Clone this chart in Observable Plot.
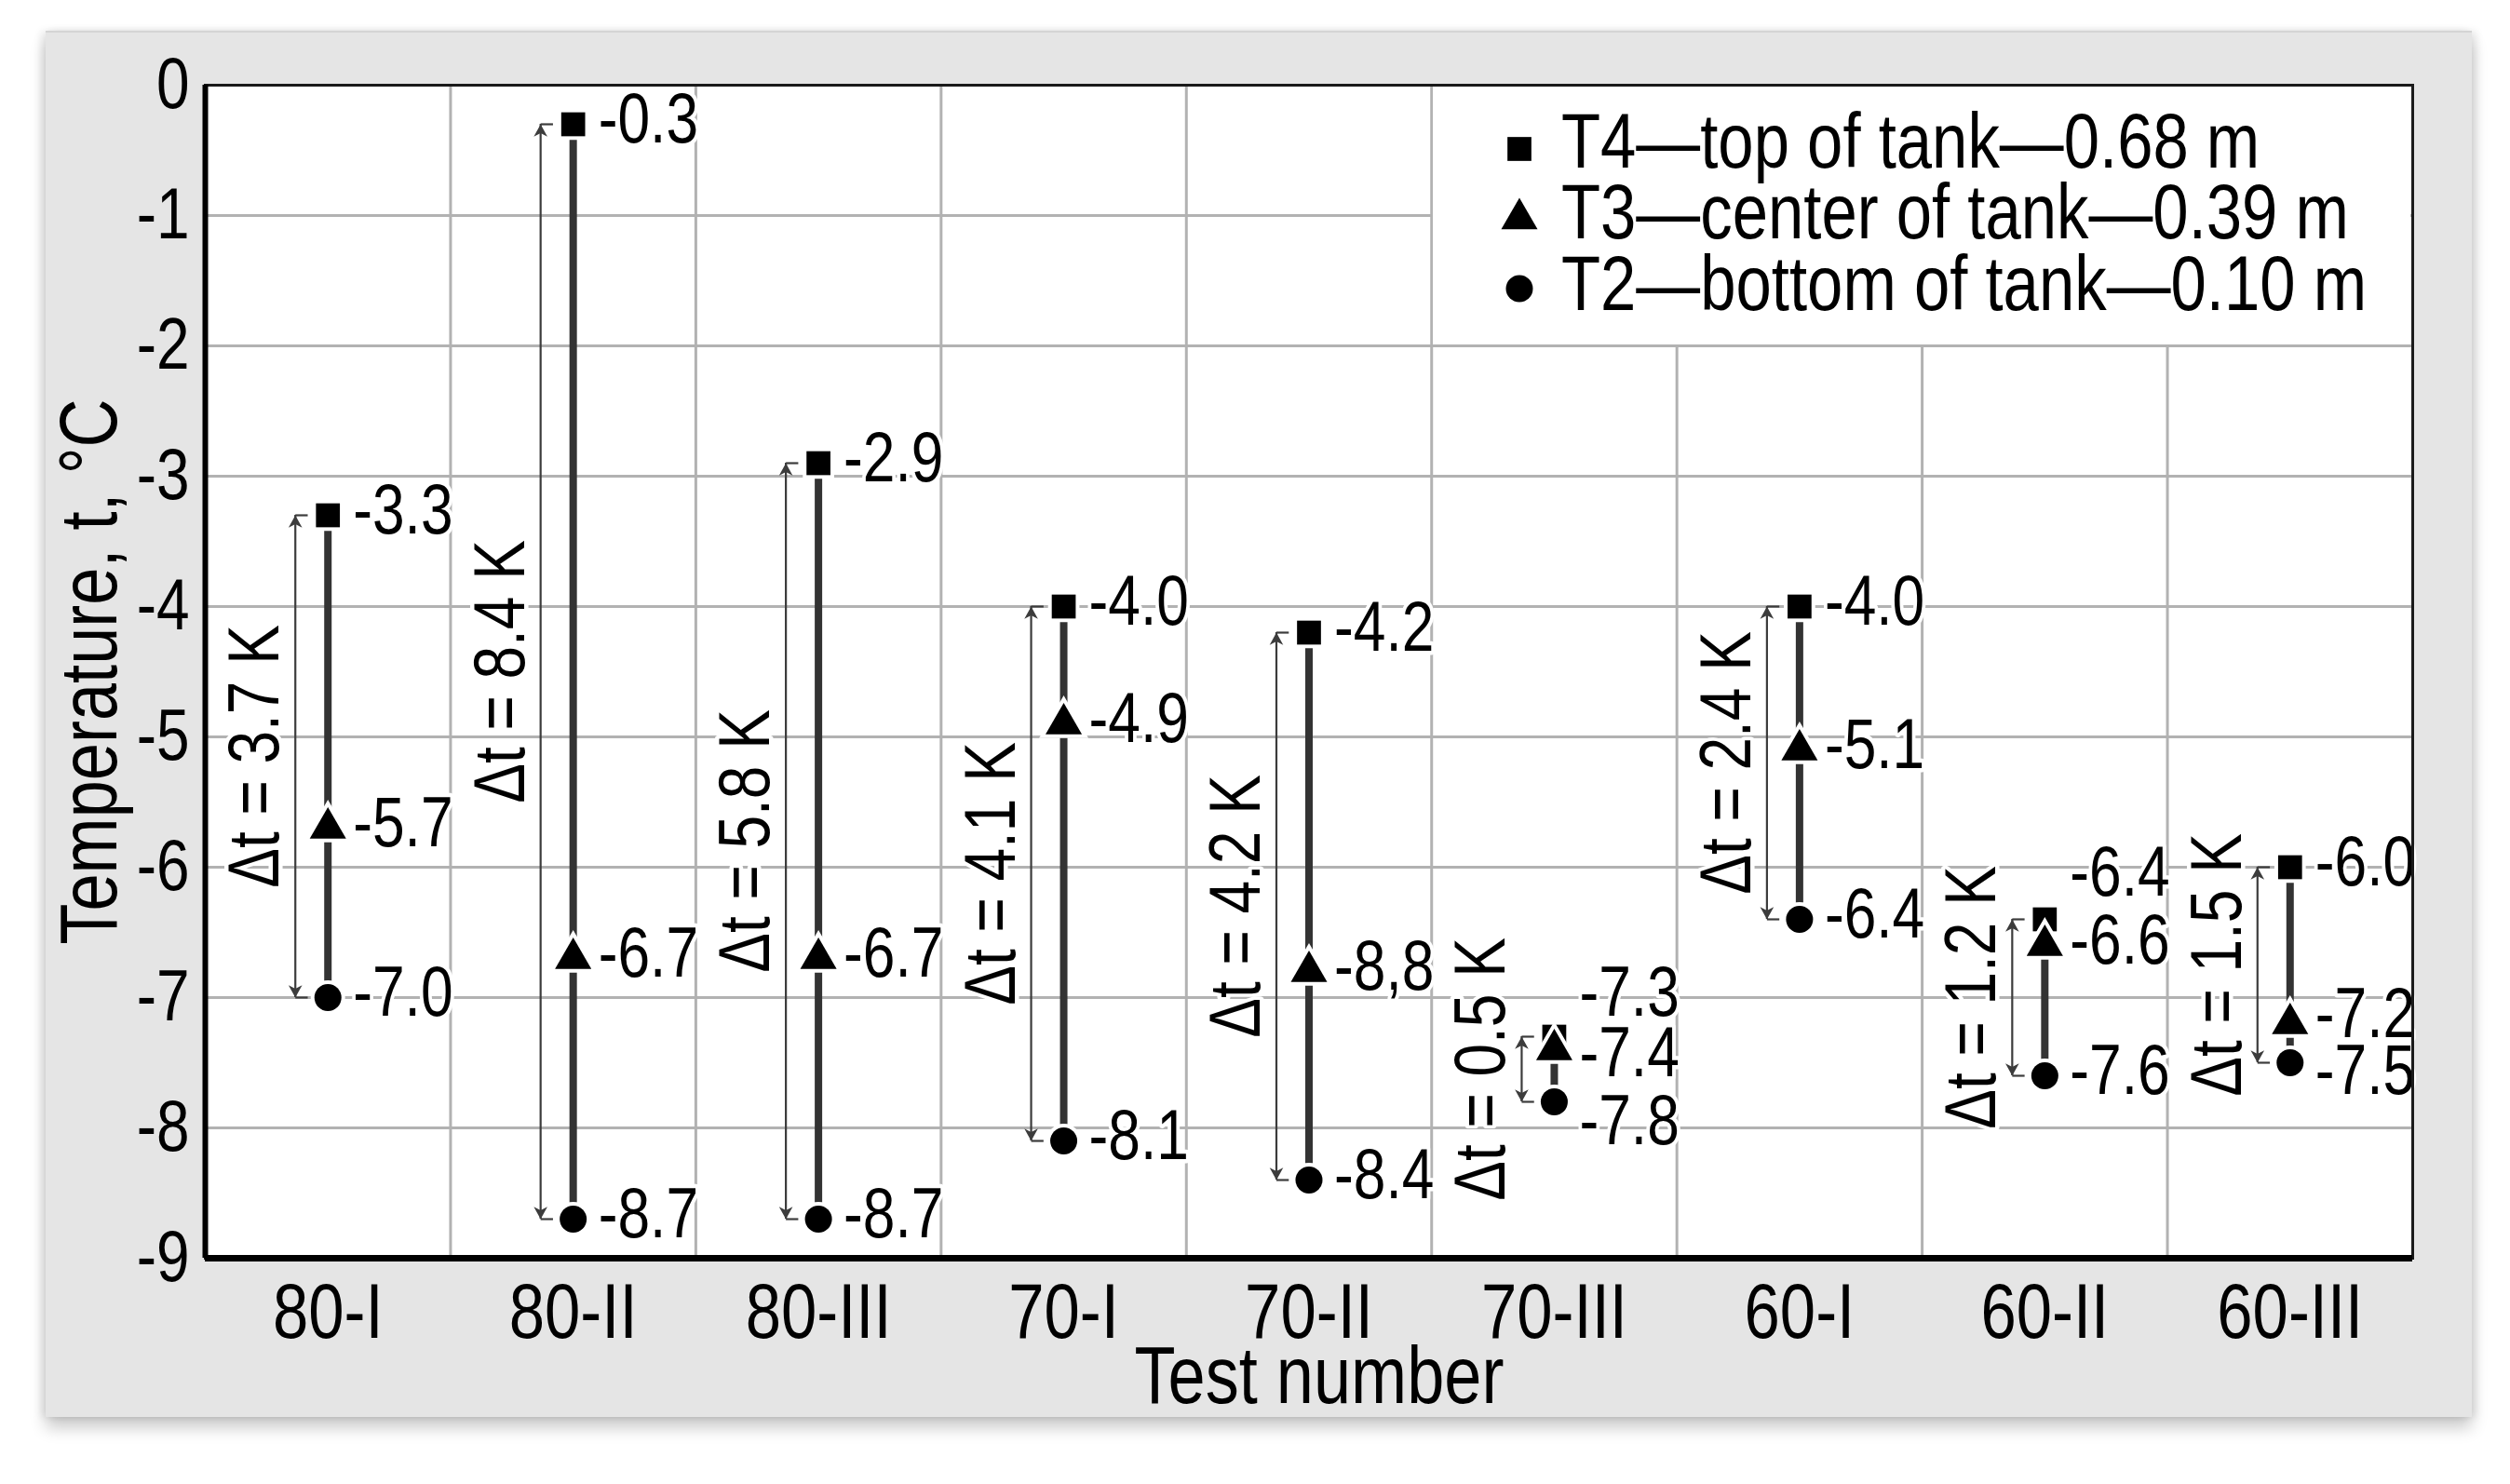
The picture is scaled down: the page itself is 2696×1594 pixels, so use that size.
<!DOCTYPE html>
<html>
<head>
<meta charset="utf-8">
<script src="https://cdn.jsdelivr.net/npm/d3@7"></script>
<script src="https://cdn.jsdelivr.net/npm/@observablehq/plot@0.6"></script>
<style>
html, body { margin: 0; padding: 0; background: #fff; }
#wrap { position: relative; width: 2696px; height: 1594px; overflow: hidden; background: #fff; }
#panel { position: absolute; left: 49px; top: 33px; width: 2606px; height: 1487px; background: #e5e5e5;
  border-top: 2px solid #d4d4d4;
  box-shadow: 0 12px 16px rgba(0,0,0,0.20), -5px 0 8px rgba(0,0,0,0.08), 5px 0 8px rgba(0,0,0,0.08); }
#chart { position: absolute; left: 0; top: 0; }
#legend { position: absolute; left: 1539px; top: 93px; width: 1050px; height: 277px; background: #fff; }
</style>
</head>
<body>
<div id="wrap"><div id="panel"></div><div id="chart"></div><div id="legend"></div></div>
<script>
// ---------- data ----------
const tests = ["80-I", "80-II", "80-III", "70-I", "70-II", "70-III", "60-I", "60-II", "60-III"];
const t4 = [-3.3, -0.3, -2.9, -4.0, -4.2, -7.3, -4.0, -6.4, -6.0];   // top of tank
const t3 = [-5.7, -6.7, -6.7, -4.9, -6.8, -7.4, -5.1, -6.6, -7.2];   // center of tank
const t2 = [-7.0, -8.7, -8.7, -8.1, -8.4, -7.8, -6.4, -7.6, -7.5];   // bottom of tank
const t4Labels = ["-3.3", "-0.3", "-2.9", "-4.0", "-4.2", "-7.3", "-4.0", "-6.4", "-6.0"];
const t3Labels = ["-5.7", "-6.7", "-6.7", "-4.9", "-8,8", "-7.4", "-5.1", "-6.6", "-7.2"];
const t2Labels = ["-7.0", "-8.7", "-8.7", "-8.1", "-8.4", "-7.8", "-6.4", "-7.6", "-7.5"];
const deltaT = ["3.7", "8.4", "5.8", "4.1", "4.2", "0.5", "2.4", "1.2", "1.5"];
const yTicks = [0, -1, -2, -3, -4, -5, -6, -7, -8, -9];
const xTickLabels = tests;
const legendLabels = ["T4\u2014top of tank\u20140.68 m", "T3\u2014center of tank\u20140.39 m", "T2\u2014bottom of tank\u20140.10 m"];
const yTitle = "Temperature, t, \u00B0C";
const xTitle = "Test number";

// ---------- font ----------
function fontAvailable(name) {
  const ctx = document.createElement("canvas").getContext("2d");
  const s = "T4 top of tank 0.68 m 12345";
  ctx.font = "80px monospace"; const w1 = ctx.measureText(s).width;
  ctx.font = `80px "${name}", monospace`; const w2 = ctx.measureText(s).width;
  return Math.abs(w1 - w2) > 0.5;
}
const hasNarrow = fontAvailable("Liberation Sans Narrow");
const FONT = hasNarrow ? '"Liberation Sans Narrow", "Liberation Sans", sans-serif' : '"Liberation Sans", Arial, sans-serif';
const SX = hasNarrow ? 1 : 0.82;

// ---------- derived tables ----------
const rows = tests.map((test, i) => ({test, pos: i + 0.5, t4: t4[i], t3: t3[i], t2: t2[i], dt: deltaT[i]}));
const series = [
  {key: "T4", values: t4, labels: t4Labels, symbol: "square"},
  {key: "T3", values: t3, labels: t3Labels, symbol: "triangle"},
  {key: "T2", values: t2, labels: t2Labels, symbol: "circle"}
];
const points = series.flatMap(s => s.values.map((v, i) => ({test: tests[i], pos: i + 0.5, key: s.key, value: v, label: s.labels[i]})));

// label placement nudges (pixels) for crowded groups
const labelNudge = {"70-III T4": -47, "70-III T3": 4, "70-III T2": 21, "60-II T4": -50, "60-III T3": -10, "60-III T2": 9};
const nudge = d => labelNudge[`${d.test} ${d.key}`] ?? -5;
const nudgeValues = [...new Set(points.map(nudge))];

// custom symbols
const headUp = {draw(ctx, size) { const h = Math.sqrt(size); ctx.moveTo(0, 0); ctx.lineTo(-0.55 * h, h); ctx.lineTo(0, 0.72 * h); ctx.lineTo(0.55 * h, h); ctx.closePath(); }};
const headDown = {draw(ctx, size) { const h = Math.sqrt(size); ctx.moveTo(0, 0); ctx.lineTo(-0.55 * h, -h); ctx.lineTo(0, -0.72 * h); ctx.lineTo(0.55 * h, -h); ctx.closePath(); }};
const endTick = {draw(ctx, size) { const L = Math.sqrt(size); ctx.moveTo(0, 0); ctx.lineTo(L, 0); }};

const ARROW_DX = -35;
const halo = {stroke: "white", strokeWidth: 9, paintOrder: "stroke", strokeLinejoin: "round"};

const plot = Plot.plot({
  width: 2696,
  height: 1594,
  marginLeft: 220,
  marginRight: 105,
  marginTop: 91,
  marginBottom: 243,
  x: {domain: [0, 9]},
  y: {domain: [-9, 0]},
  style: {fontFamily: FONT, fontSize: "78px", background: "transparent", overflow: "visible", color: "black"},
  marks: [
    Plot.frame({fill: "white", stroke: "none"}),
    Plot.gridY(yTicks, {stroke: "#b2b2b2", strokeOpacity: 1, strokeWidth: 3}),
    Plot.gridX(d3.range(1, tests.length), {stroke: "#b2b2b2", strokeOpacity: 1, strokeWidth: 3}),
    // thick connecting line T4 -> T2
    Plot.ruleX(rows, {x: "pos", y1: "t4", y2: "t2", stroke: "#333", strokeWidth: 8}),
    // double arrow Δt
    Plot.ruleX(rows, {x: "pos", y1: "t4", y2: "t2", dx: ARROW_DX, stroke: "#3c3c3c", strokeWidth: 2.2}),
    Plot.dot(rows, {x: "pos", y: "t4", dx: ARROW_DX, symbol: headUp, r: 7.5, fill: "#3c3c3c", stroke: "none"}),
    Plot.dot(rows, {x: "pos", y: "t2", dx: ARROW_DX, symbol: headDown, r: 7.5, fill: "#3c3c3c", stroke: "none"}),
    Plot.dot(rows, {x: "pos", y: "t4", dx: ARROW_DX, symbol: endTick, r: 7.5, fill: "none", stroke: "#3c3c3c", strokeWidth: 2.2}),
    Plot.dot(rows, {x: "pos", y: "t2", dx: ARROW_DX, symbol: endTick, r: 7.5, fill: "none", stroke: "#3c3c3c", strokeWidth: 2.2}),
    Plot.text(rows, {x: "pos", y: d => (d.t4 + d.t2) / 2, text: d => `\u0394t = ${d.dt} K`, rotate: -90, dx: -78, fontSize: 78, fill: "black", ...halo}),
    // markers
    ...series.map(s => Plot.dot(points.filter(d => d.key === s.key), {x: "pos", y: "value", symbol: s.symbol, r: 14.5, fill: "black", stroke: "white", strokeWidth: 8, paintOrder: "stroke"})),
    // value labels
    ...nudgeValues.map(n => Plot.text(points.filter(d => nudge(d) === n), {x: "pos", y: "value", text: "label", textAnchor: "start", dx: 27, dy: n, fontSize: 76, fill: "black", ...halo})),
    // frame
    Plot.frame({stroke: "#1a1a1a", strokeWidth: 3}),
    Plot.ruleX([0], {stroke: "black", strokeWidth: 6}),
    Plot.ruleY([-9], {stroke: "black", strokeWidth: 7}),
    // axes
    Plot.axisY(yTicks, {tickSize: 0, tickPadding: 17, fontSize: 78, tickFormat: d => String(d), label: null}),
    Plot.axisX(rows.map(d => d.pos), {tickSize: 0, tickPadding: 26, fontSize: 84, tickFormat: d => xTickLabels[Math.floor(d)], label: null}),
    Plot.text([yTitle], {frameAnchor: "left", textAnchor: "middle", lineAnchor: "middle", dx: -124, rotate: -90, fontSize: 88, fill: "black"}),
    Plot.text([xTitle], {frameAnchor: "bottom", textAnchor: "middle", lineAnchor: "middle", dy: 127, dx: 11, fontSize: 88, fill: "black"})
  ]
});

function narrowText(root) {
  if (SX === 1) return;
  root.querySelectorAll("text").forEach(t => {
    const tr = t.getAttribute("transform");
    if (tr) t.setAttribute("transform", tr + ` scale(${SX},1)`);
    else {
      const x = +(t.getAttribute("x") || 0), y = +(t.getAttribute("y") || 0);
      t.setAttribute("transform", `translate(${x},${y}) scale(${SX},1) translate(${-x},${-y})`);
    }
  });
}
narrowText(plot);
document.getElementById("chart").appendChild(plot);

// ---------- legend ----------
const legSvg = d3.select("#legend").append("svg")
  .attr("width", 1050).attr("height", 277)
  .style("font-family", FONT).style("font-size", "84px");
const legSymbols = [d3.symbolSquare, d3.symbolTriangle, d3.symbolCircle];
const markerSize = Math.PI * 14.5 * 14.5;
legendLabels.forEach((lab, i) => {
  const my = [67, 142, 217][i];
  legSvg.append("path")
    .attr("d", d3.symbol(legSymbols[i], markerSize)())
    .attr("transform", `translate(93,${my})`)
    .attr("fill", "black");
  legSvg.append("text")
    .attr("transform", `translate(138,${[87, 163, 240][i]}) scale(${SX},1)`)
    .attr("fill", "black")
    .text(lab);
});
</script>
</body>
</html>
